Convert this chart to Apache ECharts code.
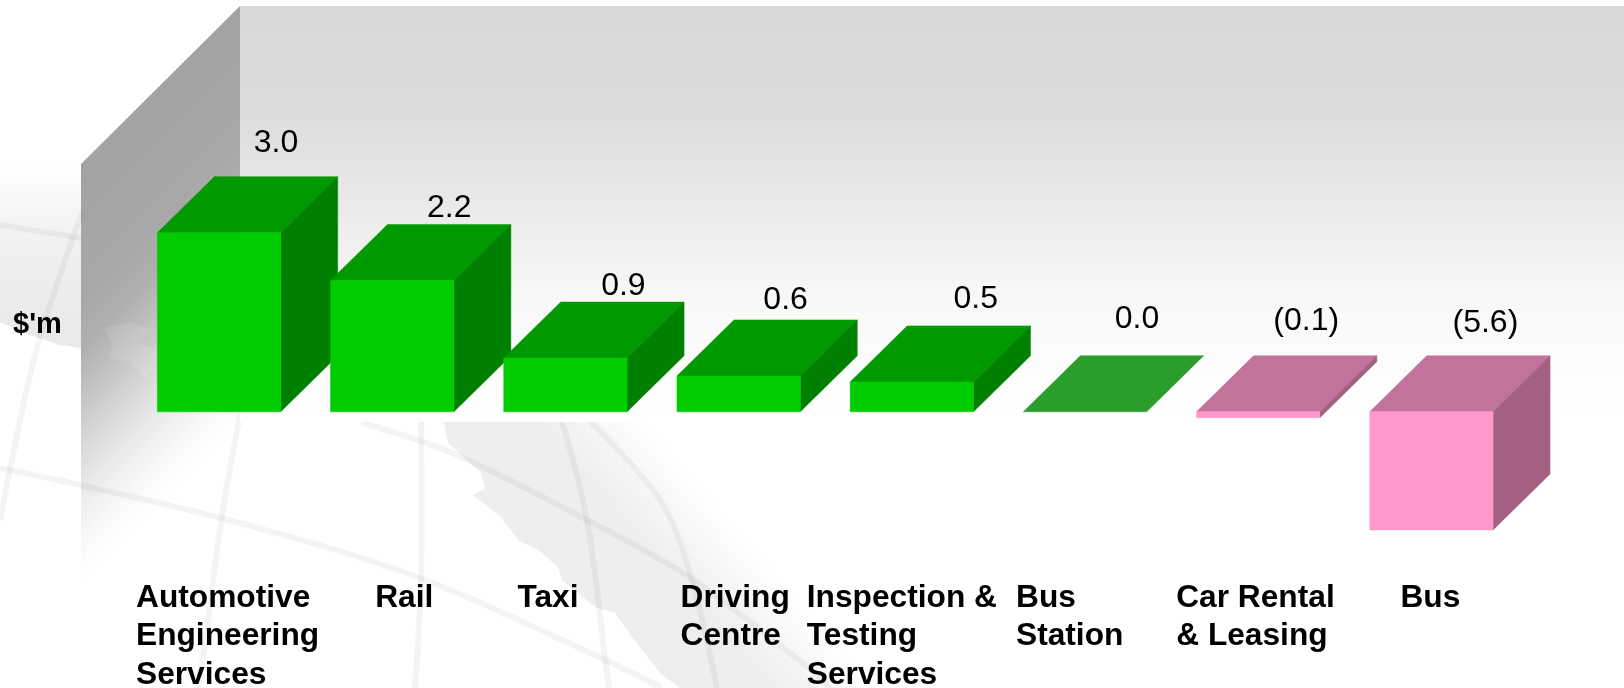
<!DOCTYPE html>
<html>
<head>
<meta charset="utf-8">
<style>
  html, body { margin: 0; padding: 0; background: #fff; }
  #main { width: 1624px; height: 688px; }
</style>
<script src="https://cdn.jsdelivr.net/npm/echarts@6/dist/echarts.min.js"></script>
</head>
<body>
<div id="main"></div>
<script>
var categories = [
  'Automotive\nEngineering\nServices',
  'Rail',
  'Taxi',
  'Driving\nCentre',
  'Inspection &\nTesting\nServices',
  'Bus\nStation',
  'Car Rental\n& Leasing',
  'Bus'
]
var values = [3.0, 2.2, 0.9, 0.6, 0.5, 0.0, -0.1, -5.6]

// the original axis is cut off below zero, the Bus bar runs into the bottom of it
var yMin = -1.98
var yMax = 6.78

// offsets from the bar centre, the labels in the picture are placed by hand
var catLabelDx = [-83, -17, -48, -58, -105, -69, -82, -31]
var valLabelDx = [57, 57, 58, 47, 64, 52, 48, 54]
var valLabelDy = [-34, -16, -16, -20, -27, -37, -35, -33]

var depthX = 57
var depthY = 56
var fontName = '"Liberation Sans", Arial, sans-serif'

var green = { front: '#00cc00', top: '#009900', side: '#008000' }
var greenFlat = { front: '#2a9d2a', top: '#2a9d2a', side: '#2a9d2a' }
var pink = { front: '#ff99cc', top: '#c2739b', side: '#a36082' }

function poly (points, fill) {
  return { type: 'polygon', silent: true, shape: { points: points }, style: { fill: fill, stroke: fill, lineWidth: 0.5 } }
}

function renderBar (params, api) {
  var i = api.value(0)
  var v = api.value(1)
  var colors = v > 0 ? green : (v === 0 ? greenFlat : pink)
  var center = api.coord([i, 0])[0]
  var half = api.size([1, 0])[0] * 0.356
  var zero = api.coord([i, 0])[1]
  var end = api.coord([i, Math.max(v, yMin)])[1]
  var top = Math.min(zero, end)
  var bottom = Math.max(zero, end)
  var l = center - half
  var r = center + half
  var children = []

  // top face and right face go first, the front covers their edges
  children.push(poly([[l, top], [l + depthX, top - depthY], [r + depthX, top - depthY], [r, top]], colors.top))
  if (bottom > top) {
    children.push(poly([[r, top], [r + depthX, top - depthY], [r + depthX, bottom - depthY], [r, bottom]], colors.side))
    children.push(poly([[l, top], [r, top], [r, bottom], [l, bottom]], colors.front))
  }

  var valText = v < 0 ? '(' + Math.abs(v).toFixed(1) + ')' : v.toFixed(1)
  children.push({
    type: 'text',
    silent: true,
    x: center + valLabelDx[i],
    y: top - depthY + valLabelDy[i],
    style: { text: valText, fill: '#000', fontFamily: fontName, fontSize: 32, textAlign: 'center', textVerticalAlign: 'middle' }
  })
  children.push({
    type: 'text',
    silent: true,
    x: center + catLabelDx[i],
    y: 579,
    style: { text: categories[i], fill: '#000', fontFamily: fontName, fontSize: 31.7, fontWeight: 'bold', lineHeight: 38.5, textAlign: 'left', textVerticalAlign: 'top' }
  })
  return { type: 'group', children: children }
}

// faint globe lines behind the chart
var globeLines = [
  [[82, 212], [55, 290], [33, 363], [10, 469], [0, 520]],
  [[0, 468], [80, 485], [240, 523], [420, 578], [599, 657], [662, 688]],
  [[243, 400], [222, 515], [207, 630], [198, 688]],
  [[421, 420], [421, 578], [415, 688]],
  [[562, 422], [587, 520], [605, 657], [609, 688]],
  [[362, 423], [452, 453], [587, 520], [689, 577], [811, 670], [830, 688]],
  [[591, 422], [660, 500], [689, 570], [717, 688]],
  [[0, 225], [81, 238]]
]
var landOutline = [
  [444, 422], [448, 443], [481, 473], [485, 488], [473, 495], [501, 517], [518, 540],
  [538, 550], [558, 567], [562, 580], [595, 607], [615, 613], [632, 637], [660, 673],
  [680, 688], [900, 688], [660, 422]
]
var smallLand = [
  [104, 328], [130, 322], [150, 330], [134, 342], [160, 350], [155, 368], [145, 378],
  [130, 362], [108, 358], [112, 345]
]

function lineGraphic (pts) {
  return {
    type: 'polyline',
    silent: true,
    shape: { points: pts, smooth: 0.35 },
    style: { fill: null, stroke: 'rgba(0,0,0,0.045)', lineWidth: 6, shadowBlur: 3, shadowColor: 'rgba(0,0,0,0.04)' }
  }
}

var graphics = [
  // grey shading of the globe, left of the side wall
  {
    type: 'polygon',
    silent: true,
    shape: { points: [[0, 160], [81, 160], [81, 348], [60, 345], [30, 335], [0, 322]] },
    style: {
      fill: {
        type: 'linear', x: 0, y: 160, x2: 0, y2: 330, global: true,
        colorStops: [
          { offset: 0, color: 'rgba(0,0,0,0)' },
          { offset: 0.5, color: 'rgba(0,0,0,0.06)' },
          { offset: 1, color: 'rgba(0,0,0,0.085)' }
        ]
      }
    }
  },
  {
    type: 'polygon',
    silent: true,
    shape: { points: landOutline },
    style: {
      fill: {
        type: 'linear', x: 656, y: 556, x2: 717, y2: 503, global: true,
        colorStops: [
          { offset: 0, color: 'rgba(0,0,0,0.065)' },
          { offset: 1, color: 'rgba(0,0,0,0)' }
        ]
      }
    }
  },
  // side wall
  {
    type: 'polygon',
    silent: true,
    shape: { points: [[81, 164], [240, 6], [240, 422], [81, 580]] },
    style: {
      fill: {
        type: 'linear', x: 81, y: 164, x2: 289, y2: 372, global: true,
        colorStops: [
          { offset: 0, color: '#a3a3a3' },
          { offset: 0.33, color: '#a8a8a8' },
          { offset: 0.45, color: '#b0b0b0' },
          { offset: 0.545, color: '#c0c0c0' },
          { offset: 0.68, color: '#d8d8d8' },
          { offset: 0.79, color: '#eaeaea' },
          { offset: 0.91, color: '#f8f8f8' },
          { offset: 1, color: '#ffffff' }
        ]
      }
    }
  },
  { type: 'polygon', silent: true, shape: { points: smallLand }, style: { fill: 'rgba(255,255,255,0.1)' } }
].concat(globeLines.map(lineGraphic)).concat([
  // back wall hides the globe
  {
    type: 'rect',
    silent: true,
    shape: { x: 240, y: 6, width: 1384, height: 416 },
    style: {
      fill: {
        type: 'linear', x: 0, y: 6, x2: 0, y2: 422, global: true,
        colorStops: [
          { offset: 0, color: '#d8d8d8' },
          { offset: 0.25, color: '#dcdcdc' },
          { offset: 0.47, color: '#e9e9e9' },
          { offset: 0.7, color: '#f8f8f8' },
          { offset: 0.97, color: '#ffffff' },
          { offset: 1, color: '#ffffff' }
        ]
      }
    }
  },
  {
    type: 'text',
    silent: true,
    x: 13,
    y: 325,
    style: { text: "$'m", fill: '#000', fontFamily: fontName, fontSize: 29, fontWeight: 'bold', textVerticalAlign: 'middle' }
  }
])

var chart = echarts.init(document.getElementById('main'), null, { renderer: 'canvas' })
chart.setOption({
  backgroundColor: '#fff',
  animation: false,
  graphic: { elements: graphics },
  grid: { left: 132.4, width: 1385.6, top: 7, height: 523 },
  xAxis: { type: 'category', data: categories, show: false },
  yAxis: { type: 'value', min: yMin, max: yMax, show: false },
  series: [
    {
      type: 'custom',
      clip: false,
      encode: { x: 0, y: 1 },
      renderItem: renderBar,
      data: values.map(function (v, i) { return [i, v] })
    }
  ]
})
</script>
</body>
</html>
